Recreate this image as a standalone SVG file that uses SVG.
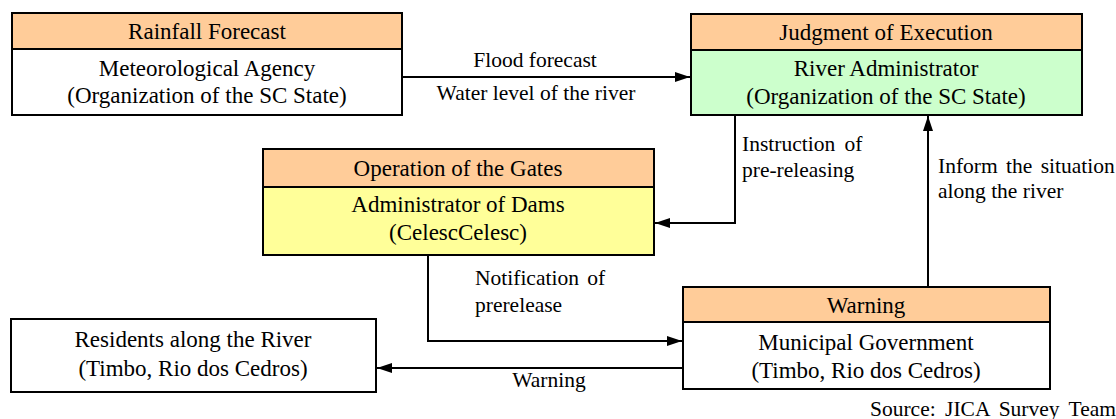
<svg xmlns="http://www.w3.org/2000/svg" width="1116" height="419" viewBox="0 0 1116 419">
<style>
text, tspan { font-family: "Liberation Serif", serif !important; fill: #000; }
.t { font-size: 23px; text-anchor: middle; }
.l { font-size: 21.5px; }
.box { stroke: #000; stroke-width: 2; }
.hdr { fill: #FFCC99; }
.c { fill: none; stroke: #000; stroke-width: 2; }
</style>
<defs>
<marker id="ah" markerUnits="userSpaceOnUse" markerWidth="16" markerHeight="10" refX="15" refY="5" orient="auto">
<path d="M0,0 L15,5 L0,10 Z" fill="#000"/>
</marker>
</defs>
<rect width="1116" height="419" fill="#fff"/>
<g id="connectors">
<path class="c" d="M402,77 H690" marker-end="url(#ah)"/>
<path class="c" d="M735,115 V223 H655" marker-end="url(#ah)"/>
<path class="c" d="M928,287 V116" marker-end="url(#ah)"/>
<path class="c" d="M428,255 V341 H682" marker-end="url(#ah)"/>
<path class="c" d="M683,368 H377" marker-end="url(#ah)"/>
<text class="l" x="535" y="67" text-anchor="middle" font-family="Liberation Serif"><tspan font-family="Liberation Serif">Flood forecast</tspan></text>
<text class="l" x="536" y="100" text-anchor="middle" font-family="Liberation Serif"><tspan font-family="Liberation Serif">Water level of the river</tspan></text>
<text class="l" x="742" y="151" word-spacing="4" font-family="Liberation Serif"><tspan font-family="Liberation Serif">Instruction of</tspan></text>
<text class="l" x="742" y="177" font-family="Liberation Serif"><tspan font-family="Liberation Serif">pre-releasing</tspan></text>
<text class="l" x="938" y="173" word-spacing="3" font-family="Liberation Serif"><tspan font-family="Liberation Serif">Inform the situation</tspan></text>
<text class="l" x="938" y="198" font-family="Liberation Serif"><tspan font-family="Liberation Serif">along the river</tspan></text>
<text class="l" x="475" y="285" word-spacing="3" font-family="Liberation Serif"><tspan font-family="Liberation Serif">Notification of</tspan></text>
<text class="l" x="475" y="312" font-family="Liberation Serif"><tspan font-family="Liberation Serif">prerelease</tspan></text>
<text class="l" x="549" y="387" text-anchor="middle" font-family="Liberation Serif"><tspan font-family="Liberation Serif">Warning</tspan></text>
</g>
<g id="rainfall">
<rect class="box" x="12" y="13" width="390" height="102" fill="#fff"/>
<rect class="box hdr" x="12" y="13" width="390" height="36"/>
<text class="t" x="207" y="39" font-family="Liberation Serif"><tspan font-family="Liberation Serif">Rainfall Forecast</tspan></text>
<text class="t" x="207" y="76" font-family="Liberation Serif"><tspan font-family="Liberation Serif">Meteorological Agency</tspan></text>
<text class="t" x="207" y="103" font-family="Liberation Serif"><tspan font-family="Liberation Serif">(Organization of the SC State)</tspan></text>
</g>
<g id="judgment">
<rect class="box" x="691" y="14" width="391" height="101" fill="#CCFFCC"/>
<rect class="box hdr" x="691" y="14" width="391" height="36"/>
<text class="t" x="886" y="40" font-family="Liberation Serif"><tspan font-family="Liberation Serif">Judgment of Execution</tspan></text>
<text class="t" x="886" y="76" font-family="Liberation Serif"><tspan font-family="Liberation Serif">River Administrator</tspan></text>
<text class="t" x="886" y="104" font-family="Liberation Serif"><tspan font-family="Liberation Serif">(Organization of the SC State)</tspan></text>
</g>
<g id="gates">
<rect class="box" x="263" y="149" width="391" height="106" fill="#FFFF99"/>
<rect class="box hdr" x="263" y="149" width="391" height="38"/>
<text class="t" x="458" y="176" font-family="Liberation Serif"><tspan font-family="Liberation Serif">Operation of the Gates</tspan></text>
<text class="t" x="458" y="212" font-family="Liberation Serif"><tspan font-family="Liberation Serif">Administrator of Dams</tspan></text>
<text class="t" x="458" y="240" font-family="Liberation Serif"><tspan font-family="Liberation Serif">(CelescCelesc)</tspan></text>
</g>
<g id="warning">
<rect class="box" x="683" y="287" width="367" height="102" fill="#fff"/>
<rect class="box hdr" x="683" y="287" width="367" height="35"/>
<text class="t" x="866" y="313" font-family="Liberation Serif"><tspan font-family="Liberation Serif">Warning</tspan></text>
<text class="t" x="866" y="350" font-family="Liberation Serif"><tspan font-family="Liberation Serif">Municipal Government</tspan></text>
<text class="t" x="866" y="378" font-family="Liberation Serif"><tspan font-family="Liberation Serif">(Timbo, Rio dos Cedros)</tspan></text>
</g>
<g id="residents">
<rect class="box" x="11" y="319" width="365" height="73" fill="#fff"/>
<text class="t" x="193" y="347" font-family="Liberation Serif"><tspan font-family="Liberation Serif">Residents along the River</tspan></text>
<text class="t" x="193" y="376" font-family="Liberation Serif"><tspan font-family="Liberation Serif">(Timbo, Rio dos Cedros)</tspan></text>
</g>
<text class="l" x="870" y="416" word-spacing="4" font-family="Liberation Serif"><tspan font-family="Liberation Serif">Source: JICA Survey Team</tspan></text>
</svg>
